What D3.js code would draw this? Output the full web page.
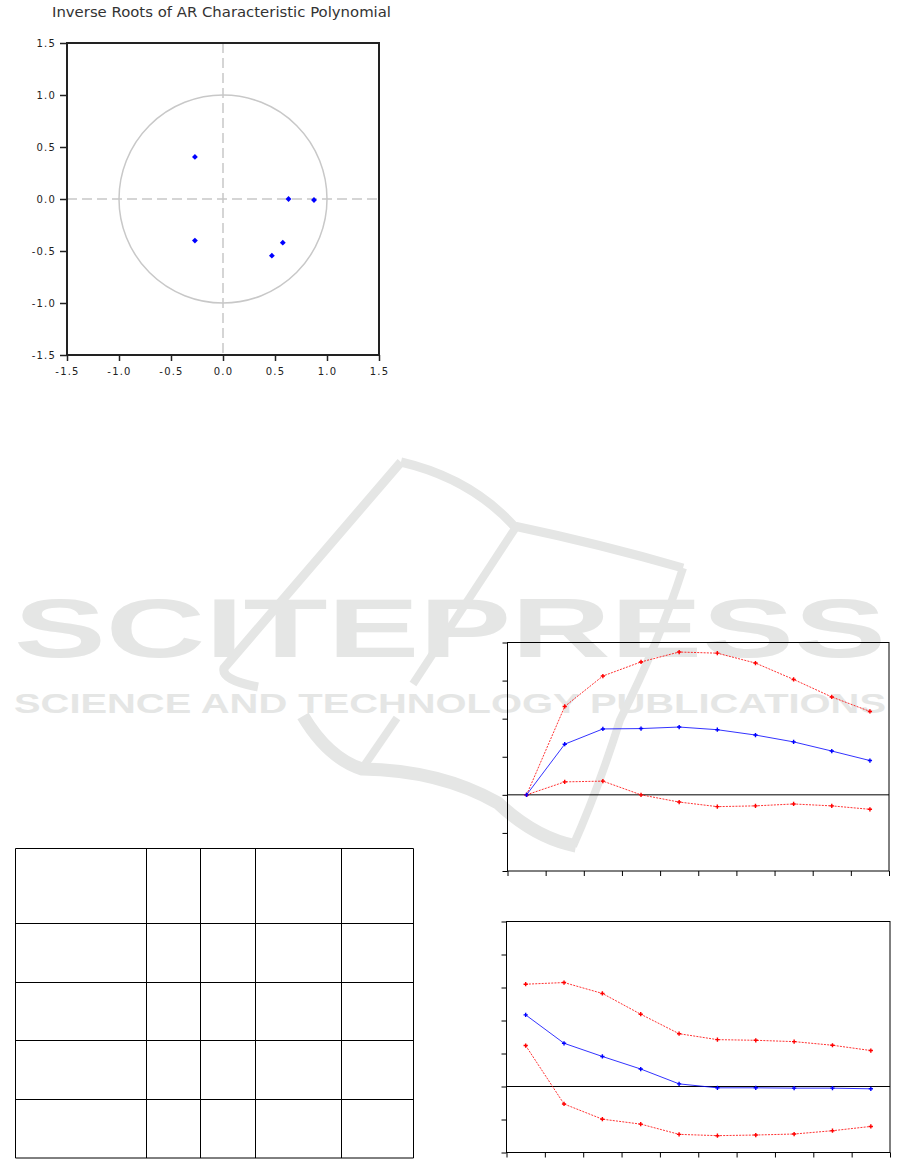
<!DOCTYPE html>
<html><head><meta charset="utf-8">
<script src="https://cdn.jsdelivr.net/npm/d3@7"></script>
<style>body{margin:0;background:#fff;overflow:hidden}</style>
</head><body><svg id="c" width="901" height="1159"></svg>
<script>
// ---------------- data ----------------
const titleText = "Inverse Roots of AR Characteristic Polynomial";
const rootsRe = [-0.27, -0.27, 0.63, 0.875, 0.575, 0.47];
const rootsIm = [0.405, -0.40, 0.0, -0.01, -0.42, -0.545];
const rootTicks = [-1.5, -1.0, -0.5, 0.0, 0.5, 1.0, 1.5];

const periods = [1, 2, 3, 4, 5, 6, 7, 8, 9, 10];
const irfXTicks = [0.5, 1.5, 2.5, 3.5, 4.5, 5.5, 6.5, 7.5, 8.5, 9.5, 10.5];

const irf1Upper = [0, 2.32, 3.12, 3.49, 3.75, 3.72, 3.46, 3.03, 2.57, 2.19];
const irf1Resp  = [0, 1.33, 1.73, 1.74, 1.78, 1.71, 1.57, 1.39, 1.15, 0.90];
const irf1Lower = [0, 0.34, 0.36, 0.00, -0.19, -0.31, -0.29, -0.24, -0.29, -0.38];
const irf1YTicks = [-2, -1, 0, 1, 2, 3, 4];

const irf2Upper = [3.10, 3.15, 2.82, 2.19, 1.60, 1.42, 1.40, 1.36, 1.25, 1.09];
const irf2Resp  = [2.17, 1.31, 0.91, 0.53, 0.08, -0.04, -0.04, -0.05, -0.05, -0.07];
const irf2Lower = [1.24, -0.53, -0.99, -1.14, -1.45, -1.49, -1.47, -1.44, -1.34, -1.21];
const irf2YTicks = [-2, -1, 0, 1, 2, 3, 4, 5];

const watermarkTitle = "SCITEPRESS";
const watermarkSub = "SCIENCE AND TECHNOLOGY PUBLICATIONS";

// ---------------- layout ----------------
const L = {
  roots: {x0: 67, x1: 379, y0: 355, y1: 43},
  irf1: {x0: 507.5, x1: 889, yBot: 871, yTop: 642.5},
  irf2: {x0: 506.5, x1: 890, yBot: 1152.5, yTop: 921.5},
  tableX: [15.5, 146.5, 200.5, 255.5, 341.5, 413.5],
  tableY: [848.5, 923.5, 982.5, 1040.5, 1099.5, 1158]
};
const WM = "#e5e6e5";

const svg = d3.select("#c");

// ---------------- watermark (behind everything) ----------------
const wm = svg.append("g").attr("class", "watermark");
const logoShapes = [
  {w: 9,  d: "M401,462 L224,668 Q221,680 258,687"},
  {w: 9,  d: "M401,462 Q470,478 514,526 Q600,544 683,568"},
  {w: 8,  d: "M516,527 L413,684"},
  {w: 8,  d: "M683,568 Q660,640 620,720 Q598,790 573,846"},
  {w: 8,  d: "M397,718 L364,766"},
  {w: 13, d: "M303,716 Q328,758 362,769 Q440,770 498,803 Q535,838 576,846"}
];
wm.selectAll("path.logo").data(logoShapes).join("path")
  .attr("class", "logo")
  .attr("d", d => d.d)
  .attr("fill", "none").attr("stroke", WM)
  .attr("stroke-width", d => d.w)
  .attr("stroke-linejoin", "miter").attr("stroke-linecap", "butt");
wm.append("text").text(watermarkTitle)
  .attr("x", 14).attr("y", 657)
  .attr("textLength", 872).attr("lengthAdjust", "spacingAndGlyphs")
  .attr("font-family", "Liberation Sans, Arial, sans-serif").attr("font-weight", "bold")
  .attr("font-size", 84).attr("fill", WM);
wm.append("text").text(watermarkSub)
  .attr("x", 14).attr("y", 713)
  .attr("textLength", 872).attr("lengthAdjust", "spacingAndGlyphs")
  .attr("font-family", "Liberation Sans, Arial, sans-serif").attr("font-weight", "bold")
  .attr("font-size", 28).attr("fill", WM);

// ---------------- inverse roots chart ----------------
(function(){
  const R = L.roots;
  const g = svg.append("g");
  const x = d3.scaleLinear().domain([-1.5, 1.5]).range([R.x0, R.x1]);
  const y = d3.scaleLinear().domain([-1.5, 1.5]).range([R.y0, R.y1]);
  const fmt = d => d.toFixed(1);

  g.append("text").text(titleText)
    .attr("x", 52).attr("y", 17)
    .attr("textLength", 339).attr("lengthAdjust", "spacingAndGlyphs")
    .attr("font-family", "DejaVu Sans, sans-serif").attr("font-size", 13.5)
    .attr("fill", "#333");

  g.append("line").attr("x1", x(0)).attr("x2", x(0)).attr("y1", y(1.5)).attr("y2", y(-1.5))
    .attr("stroke", "#c8c8c8").attr("stroke-width", 1.5).attr("stroke-dasharray", "10,5");
  g.append("line").attr("x1", x(-1.5)).attr("x2", x(1.5)).attr("y1", y(0)).attr("y2", y(0))
    .attr("stroke", "#c8c8c8").attr("stroke-width", 1.5).attr("stroke-dasharray", "10,5");
  g.append("circle").attr("cx", x(0)).attr("cy", y(0)).attr("r", x(1) - x(0))
    .attr("fill", "none").attr("stroke", "#c8c8c8").attr("stroke-width", 1.5);

  const ax = g.append("g").attr("transform", `translate(0,${R.y0})`)
    .call(d3.axisBottom(x).tickValues(rootTicks).tickFormat(fmt).tickSize(6).tickSizeOuter(0));
  const ay = g.append("g").attr("transform", `translate(${R.x0},0)`)
    .call(d3.axisLeft(y).tickValues(rootTicks).tickFormat(fmt).tickSize(7).tickSizeOuter(0));
  [ax, ay].forEach(a => {
    a.select(".domain").remove();
    a.selectAll(".tick line").attr("stroke", "#222").attr("stroke-width", 1.5);
    a.selectAll(".tick text").attr("font-family", "DejaVu Sans, sans-serif")
      .attr("font-size", 10).attr("letter-spacing", 1.2).attr("fill", "#222");
  });
  ax.selectAll(".tick text").attr("dy", "1.1em");
  ay.selectAll(".tick text").attr("x", -11);

  g.append("rect").attr("x", R.x0).attr("y", R.y1)
    .attr("width", R.x1 - R.x0).attr("height", R.y0 - R.y1)
    .attr("fill", "none").attr("stroke", "#222").attr("stroke-width", 2);

  g.selectAll("path.root").data(rootsRe.map((r, i) => [r, rootsIm[i]])).join("path")
    .attr("class", "root")
    .attr("transform", d => `translate(${x(d[0])},${y(d[1])}) rotate(45)`)
    .attr("d", d3.symbol(d3.symbolSquare, 17))
    .attr("fill", "#0000ff");
})();

// ---------------- impulse response charts ----------------
function irfChart(P, yTicks, upper, resp, lower) {
  const g = svg.append("g");
  const x = d3.scaleLinear().domain([irfXTicks[0], irfXTicks[irfXTicks.length - 1]]).range([P.x0, P.x1]);
  const y = d3.scaleLinear().domain([yTicks[0], yTicks[yTicks.length - 1]]).range([P.yBot, P.yTop]);

  const ax = g.append("g").attr("transform", `translate(0,${P.yBot})`)
    .call(d3.axisBottom(x).tickValues(irfXTicks).tickFormat("").tickSize(5).tickSizeOuter(0));
  const ay = g.append("g").attr("transform", `translate(${P.x0},0)`)
    .call(d3.axisLeft(y).tickValues(yTicks).tickFormat("").tickSize(5).tickSizeOuter(0));
  [ax, ay].forEach(a => {
    a.select(".domain").remove();
    a.selectAll(".tick line").attr("stroke", "#000").attr("stroke-width", 1);
  });

  g.append("rect").attr("x", P.x0).attr("y", P.yTop)
    .attr("width", P.x1 - P.x0).attr("height", P.yBot - P.yTop)
    .attr("fill", "none").attr("stroke", "#000").attr("stroke-width", 1);
  g.append("line").attr("x1", P.x0).attr("x2", P.x1).attr("y1", y(0)).attr("y2", y(0))
    .attr("stroke", "#000").attr("stroke-width", 1);

  const line = d3.line().x((d, i) => x(periods[i])).y(d => y(d));
  const series = [
    {v: upper, c: "#ff0000", dash: "2,1.2"},
    {v: lower, c: "#ff0000", dash: "2,1.2"},
    {v: resp, c: "#0000ff", dash: null}
  ];
  series.forEach(s => {
    g.append("path").attr("d", line(s.v)).attr("fill", "none")
      .attr("stroke", s.c).attr("stroke-width", 1)
      .attr("stroke-dasharray", s.dash).attr("opacity", 0.8);
    g.selectAll(null).data(s.v).join("path")
      .attr("transform", (d, i) => `translate(${x(periods[i])},${y(d)})`)
      .attr("d", d3.symbol(d3.symbolCross, 10))
      .attr("fill", s.c);
  });
}
irfChart(L.irf1, irf1YTicks, irf1Upper, irf1Resp, irf1Lower);
irfChart(L.irf2, irf2YTicks, irf2Upper, irf2Resp, irf2Lower);

// ---------------- empty table ----------------
(function(){
  const g = svg.append("g");
  const X = L.tableX, Y = L.tableY;
  g.selectAll("line.v").data(X).join("line").attr("class", "v")
    .attr("x1", d => d).attr("x2", d => d).attr("y1", Y[0]).attr("y2", Y[Y.length - 1])
    .attr("stroke", "#000").attr("stroke-width", 1);
  g.selectAll("line.h").data(Y).join("line").attr("class", "h")
    .attr("x1", X[0]).attr("x2", X[X.length - 1]).attr("y1", d => d).attr("y2", d => d)
    .attr("stroke", "#000").attr("stroke-width", 1);
})();
</script>
</body></html>
